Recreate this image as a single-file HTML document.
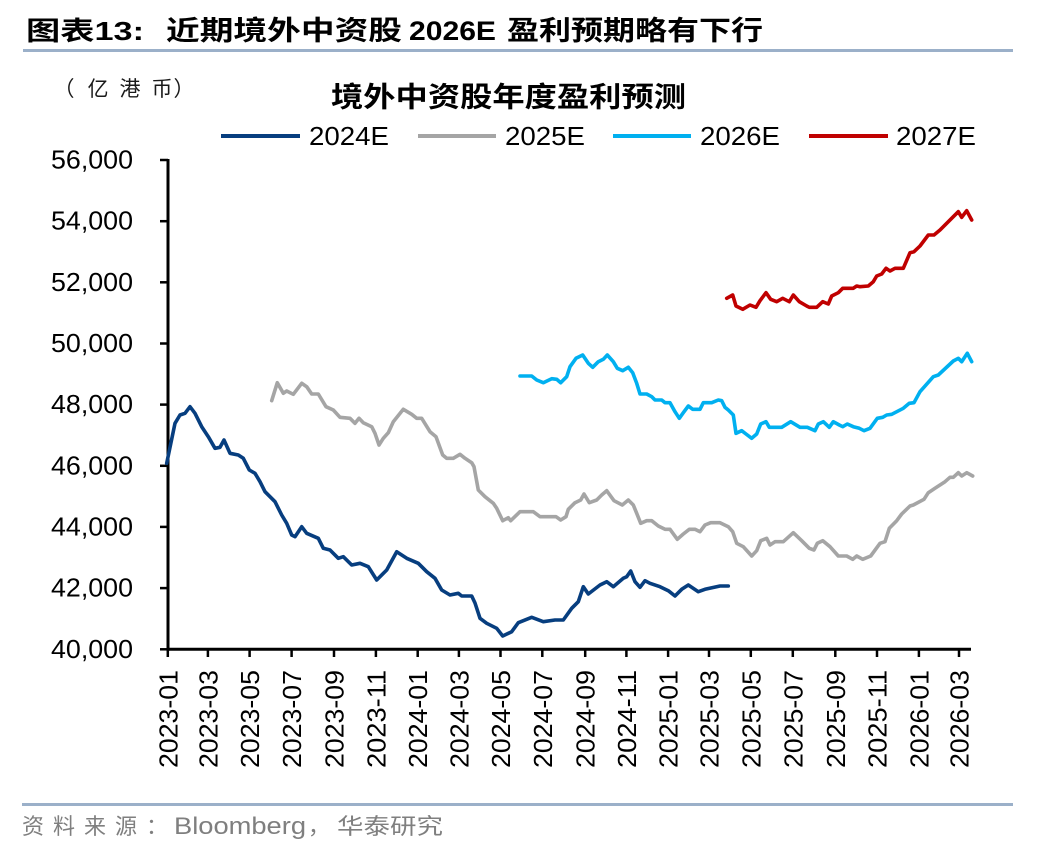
<!DOCTYPE html>
<html>
<head>
<meta charset="utf-8">
<style>
html,body{margin:0;padding:0;background:#fff;}
svg{display:block;}
.lat{font-family:"Liberation Sans","Noto Sans CJK SC",sans-serif;}
.cjk{font-family:"Liberation Sans","Noto Sans CJK SC",sans-serif;}
</style>
</head>
<body>
<svg width="1048" height="852" viewBox="0 0 1048 852" xmlns="http://www.w3.org/2000/svg">
<rect width="1048" height="852" fill="#fff"/>

<!-- Header -->
<text class="cjk" x="26" y="40" font-size="26" font-weight="bold" fill="#000" textLength="118" lengthAdjust="spacingAndGlyphs">图表13:</text>
<text class="cjk" x="166" y="40" font-size="27" font-weight="bold" fill="#000" textLength="236" lengthAdjust="spacingAndGlyphs">近期境外中资股</text>
<text class="lat" x="409" y="40" font-size="27" font-weight="bold" fill="#000" textLength="87" lengthAdjust="spacingAndGlyphs">2026E</text>
<text class="cjk" x="507" y="40" font-size="27" font-weight="bold" fill="#000" textLength="256" lengthAdjust="spacingAndGlyphs">盈利预期略有下行</text>
<rect x="23" y="49" width="990" height="3" fill="#9bb0c9"/>

<!-- Unit -->
<text class="cjk" x="64" y="96" font-size="21" fill="#1a1a1a" text-anchor="middle">（</text>
<text class="cjk" x="98" y="96" font-size="21" fill="#1a1a1a" text-anchor="middle">亿</text>
<text class="cjk" x="130" y="96" font-size="21" fill="#1a1a1a" text-anchor="middle">港</text>
<text class="cjk" x="162" y="96" font-size="21" fill="#1a1a1a" text-anchor="middle">币</text>
<text class="cjk" x="184" y="96" font-size="21" fill="#1a1a1a" text-anchor="middle">）</text>

<!-- Chart title -->
<text class="cjk" x="331" y="106.5" font-size="28" font-weight="bold" fill="#000" textLength="355" lengthAdjust="spacingAndGlyphs">境外中资股年度盈利预测</text>

<!-- Legend -->
<g stroke-width="4" stroke-linecap="butt">
<line x1="221" y1="136" x2="300" y2="136" stroke="#073e7f"/>
<line x1="418" y1="136" x2="496" y2="136" stroke="#a5a5a5"/>
<line x1="613" y1="136" x2="691" y2="136" stroke="#00b0f0"/>
<line x1="809" y1="136" x2="888" y2="136" stroke="#c00000"/>
</g>
<g class="lat" font-size="26" fill="#000">
<text x="309" y="145" textLength="80" lengthAdjust="spacingAndGlyphs">2024E</text>
<text x="505" y="145" textLength="80" lengthAdjust="spacingAndGlyphs">2025E</text>
<text x="700" y="145" textLength="80" lengthAdjust="spacingAndGlyphs">2026E</text>
<text x="896" y="145" textLength="80" lengthAdjust="spacingAndGlyphs">2027E</text>
</g>

<!-- Y axis labels -->
<g class="lat" font-size="26" fill="#000">
<text x="51" y="168.5" textLength="82" lengthAdjust="spacingAndGlyphs">56,000</text>
<text x="51" y="229.7" textLength="82" lengthAdjust="spacingAndGlyphs">54,000</text>
<text x="51" y="290.8" textLength="82" lengthAdjust="spacingAndGlyphs">52,000</text>
<text x="51" y="352" textLength="82" lengthAdjust="spacingAndGlyphs">50,000</text>
<text x="51" y="413.1" textLength="82" lengthAdjust="spacingAndGlyphs">48,000</text>
<text x="51" y="474.3" textLength="82" lengthAdjust="spacingAndGlyphs">46,000</text>
<text x="51" y="535.4" textLength="82" lengthAdjust="spacingAndGlyphs">44,000</text>
<text x="51" y="596.6" textLength="82" lengthAdjust="spacingAndGlyphs">42,000</text>
<text x="51" y="657.8" textLength="82" lengthAdjust="spacingAndGlyphs">40,000</text>
</g>

<!-- Axes -->
<g stroke="#000" stroke-width="3">
<line x1="168" y1="159" x2="168" y2="650.8"/>
<line x1="166.5" y1="649.3" x2="971" y2="649.3"/>
</g>
<g stroke="#000" stroke-width="2.5">
<line x1="160" y1="160" x2="168" y2="160"/>
<line x1="160" y1="221.2" x2="168" y2="221.2"/>
<line x1="160" y1="282.3" x2="168" y2="282.3"/>
<line x1="160" y1="343.5" x2="168" y2="343.5"/>
<line x1="160" y1="404.6" x2="168" y2="404.6"/>
<line x1="160" y1="465.8" x2="168" y2="465.8"/>
<line x1="160" y1="526.9" x2="168" y2="526.9"/>
<line x1="160" y1="588.1" x2="168" y2="588.1"/>
<line x1="160" y1="649.3" x2="168" y2="649.3"/>
</g>
<g stroke="#000" stroke-width="2.5">
<line x1="167.8" y1="649" x2="167.8" y2="657"/>
<line x1="207.9" y1="649" x2="207.9" y2="657"/>
<line x1="249.6" y1="649" x2="249.6" y2="657"/>
<line x1="291.6" y1="649" x2="291.6" y2="657"/>
<line x1="334" y1="649" x2="334" y2="657"/>
<line x1="375.9" y1="649" x2="375.9" y2="657"/>
<line x1="417.7" y1="649" x2="417.7" y2="657"/>
<line x1="458.9" y1="649" x2="458.9" y2="657"/>
<line x1="500.5" y1="649" x2="500.5" y2="657"/>
<line x1="542.3" y1="649" x2="542.3" y2="657"/>
<line x1="585.2" y1="649" x2="585.2" y2="657"/>
<line x1="626.4" y1="649" x2="626.4" y2="657"/>
<line x1="668.1" y1="649" x2="668.1" y2="657"/>
<line x1="709" y1="649" x2="709" y2="657"/>
<line x1="750.8" y1="649" x2="750.8" y2="657"/>
<line x1="792.8" y1="649" x2="792.8" y2="657"/>
<line x1="835.3" y1="649" x2="835.3" y2="657"/>
<line x1="877" y1="649" x2="877" y2="657"/>
<line x1="918.9" y1="649" x2="918.9" y2="657"/>
<line x1="959" y1="649" x2="959" y2="657"/>
</g>

<!-- X labels -->
<g class="lat" font-size="26" fill="#000">
<text transform="translate(177.3,768) rotate(-90)" textLength="98" lengthAdjust="spacingAndGlyphs">2023-01</text>
<text transform="translate(217.4,768) rotate(-90)" textLength="98" lengthAdjust="spacingAndGlyphs">2023-03</text>
<text transform="translate(259.1,768) rotate(-90)" textLength="98" lengthAdjust="spacingAndGlyphs">2023-05</text>
<text transform="translate(301.1,768) rotate(-90)" textLength="98" lengthAdjust="spacingAndGlyphs">2023-07</text>
<text transform="translate(343.5,768) rotate(-90)" textLength="98" lengthAdjust="spacingAndGlyphs">2023-09</text>
<text transform="translate(385.4,768) rotate(-90)" textLength="98" lengthAdjust="spacingAndGlyphs">2023-11</text>
<text transform="translate(427.2,768) rotate(-90)" textLength="98" lengthAdjust="spacingAndGlyphs">2024-01</text>
<text transform="translate(468.4,768) rotate(-90)" textLength="98" lengthAdjust="spacingAndGlyphs">2024-03</text>
<text transform="translate(510,768) rotate(-90)" textLength="98" lengthAdjust="spacingAndGlyphs">2024-05</text>
<text transform="translate(551.8,768) rotate(-90)" textLength="98" lengthAdjust="spacingAndGlyphs">2024-07</text>
<text transform="translate(594.7,768) rotate(-90)" textLength="98" lengthAdjust="spacingAndGlyphs">2024-09</text>
<text transform="translate(635.9,768) rotate(-90)" textLength="98" lengthAdjust="spacingAndGlyphs">2024-11</text>
<text transform="translate(677.6,768) rotate(-90)" textLength="98" lengthAdjust="spacingAndGlyphs">2025-01</text>
<text transform="translate(718.5,768) rotate(-90)" textLength="98" lengthAdjust="spacingAndGlyphs">2025-03</text>
<text transform="translate(760.3,768) rotate(-90)" textLength="98" lengthAdjust="spacingAndGlyphs">2025-05</text>
<text transform="translate(802.3,768) rotate(-90)" textLength="98" lengthAdjust="spacingAndGlyphs">2025-07</text>
<text transform="translate(844.8,768) rotate(-90)" textLength="98" lengthAdjust="spacingAndGlyphs">2025-09</text>
<text transform="translate(886.5,768) rotate(-90)" textLength="98" lengthAdjust="spacingAndGlyphs">2025-11</text>
<text transform="translate(928.4,768) rotate(-90)" textLength="98" lengthAdjust="spacingAndGlyphs">2026-01</text>
<text transform="translate(968.5,768) rotate(-90)" textLength="98" lengthAdjust="spacingAndGlyphs">2026-03</text>
</g>

<!-- Series -->
<g fill="none" stroke-width="3.6" stroke-linejoin="round" stroke-linecap="round">
<polyline stroke="#a5a5a5" points="271.7,400.7 277.3,382.7 283.3,393.3 286.7,391 293.3,394.3 301.7,383.3 306.7,386.7 311.7,394 318.3,394 326,406.7 333.3,410 340,417.3 350,418.3 355,423.3 359,418.3 363.3,422.7 371.7,426.7 375,433.3 379,445 383.3,438.3 388.3,432.7 393.3,421.7 403.3,409.3 411.7,414.3 416.7,418.3 421.7,418.3 430,431.7 436,436.7 442.7,455 446.7,458.3 453.3,458.3 460,454.3 465,458.3 471.7,462.7 474,466.7 478.3,490 485,496.7 493.3,503.3 496.7,508.3 502.7,520.7 508.3,517.7 510.7,520.7 520,511.7 533.3,511.7 540,516.7 556,516.7 560.7,520 566,516.7 568.3,509.3 575,502.7 580.7,500 584,494 589.3,502.7 596.7,500 601.7,495 606.7,490.7 614,500.7 622.3,505 628.3,500 633.3,505 636.7,513.3 640.7,523.3 646.7,520.7 651.7,520.7 658.3,526 665,529.3 670,529.3 677.3,539.3 683.3,534 689.3,529.3 695,529.3 700,531.7 705,525 710.7,522.7 720,522.7 728.3,526.7 732.7,531.7 736.7,543.3 743.3,546.7 751.7,556 756.7,550.7 760.7,540.7 766.7,538.3 770,545 775,541.7 783.3,541.7 793.3,532.7 801.7,540.7 809.3,548.3 814,550 817.3,543.3 822.7,540.7 830,546.7 838.3,556 846.7,556 852.7,559.3 856.7,556 862.7,559.3 870.7,556 880,543.3 885,541.7 889.3,528.3 896.7,520.7 901.7,514 910,506 913.3,505 924,499.3 928.3,492.7 935,488.3 945,481.7 950,477.3 953.3,477.3 958.3,472.7 961.7,476 966.7,472.7 972.7,476"/>
<polyline stroke="#073e7f" points="166.7,463.3 175,423.3 180,415 185,413.3 190,406.7 195,413.3 201.7,426.7 208.3,436.7 215,448.3 220,447.3 224,440 230,453.3 238.3,455 243.3,458.3 249.3,470 255,473.3 260,481.7 265,491.7 275,501.7 281.7,515 286.7,523.3 291.7,535 295,536.7 301.7,526.7 306.7,533.3 318.3,538.3 323.3,548.3 330,550 338.3,558.3 343.3,556.7 351.7,565 360,563.3 368.3,566.7 376.7,580 386.7,570 396.7,551.7 406.7,558.3 418.3,563.3 426.7,571.7 435,578.3 441.7,590 450,595 458.3,593.3 461.7,596 471.7,596 475,603 480,618.3 486.7,623.3 496.7,628.3 502.7,636 511.7,631.7 518.3,622.7 531.7,617.3 543.3,621.7 555,620 563.3,620 571.7,608.3 578.3,601.7 583.3,586.7 588.3,594 600,585 606.7,581.7 613.3,586.7 623.3,578.3 626.7,576.7 630.7,571 635,581.7 640,587.3 645,580.7 650,583.3 660,586.7 668.3,590.7 675,596 681.7,589.3 688.3,585 698.3,591.7 705,589.3 720,586 728.3,586"/>
<polyline stroke="#00b0f0" points="520,376 531.7,376 536.7,380 543.3,382.7 551.7,378.7 556.7,379.3 560.7,382.7 566.7,376.7 570,366.7 576,358.3 582.7,355 588.3,363.3 592.7,367.3 598.3,361.7 603.3,359.3 607.3,355 613.3,361.7 617.3,368.3 622.7,370.7 628.3,367.3 632.7,372.7 636.7,383.3 640,394 646.7,394 651.7,396.7 655,400 661.7,400 665,402.7 670,402.7 675,411.7 679.3,418.3 683.3,412.7 688.3,406 692.7,409.3 700,409.3 703.3,402.7 711.7,402.7 718.3,400 721.7,400.7 725,407.3 728.3,410 733.3,415 736,433.3 741.7,430.7 746,434 751.7,438.3 756.7,434 760.7,424 766,421.7 769.3,427.3 781.7,427.3 790.7,421.7 800,427.3 807.3,427.3 815,430.7 818.3,424 823.3,421.7 829.3,427.3 833.3,421.7 839.3,425 842.7,426.7 847.3,424 853.3,426.7 859.3,428.3 864,430.7 870,428.3 877.3,418.3 882.7,417.3 886.7,415 891.7,414.3 903.3,408.3 909.3,403.3 914,402.7 920,391.7 933.3,376.7 938.3,375 953.3,361 958.3,358.3 961.7,361.7 967.3,353.3 971.7,361.7"/>
<polyline stroke="#c00000" points="726.7,298.3 732.7,295 736,306 742.7,309.3 750,305 756,307.3 760,300.7 766,292.7 770.7,299.3 776.7,301.7 782.7,298.3 789.3,301.7 793.3,295 799.3,301.7 806.7,306 809.3,307.3 816.7,307.3 822.7,301.7 828.3,304 831.7,296 838.3,292.7 842.7,288.3 853.3,288.3 856.7,286 860,286.7 868.3,286 873.3,281.7 876.7,276 881.7,274 886,268.3 890,271 895,268.3 903.3,268.3 910,252.7 914,251.7 920,246 928.3,235 934,235 940,230 958.3,211.7 961.7,217.3 966.7,210.7 971.7,220"/>
</g>

<!-- Footer -->
<rect x="22" y="803" width="991" height="3" fill="#9bb0c9"/>
<text class="cjk" x="22" y="834" font-size="22" fill="#7f7f7f" textLength="146" lengthAdjust="spacing">资料来源：</text>
<text class="lat" x="174" y="834" font-size="24" fill="#7f7f7f" textLength="132" lengthAdjust="spacingAndGlyphs">Bloomberg</text>
<text class="cjk" x="308" y="834" font-size="22" fill="#7f7f7f">，</text>
<text class="cjk" x="337" y="834" font-size="22" fill="#7f7f7f" textLength="106" lengthAdjust="spacingAndGlyphs">华泰研究</text>
</svg>
</body>
</html>
